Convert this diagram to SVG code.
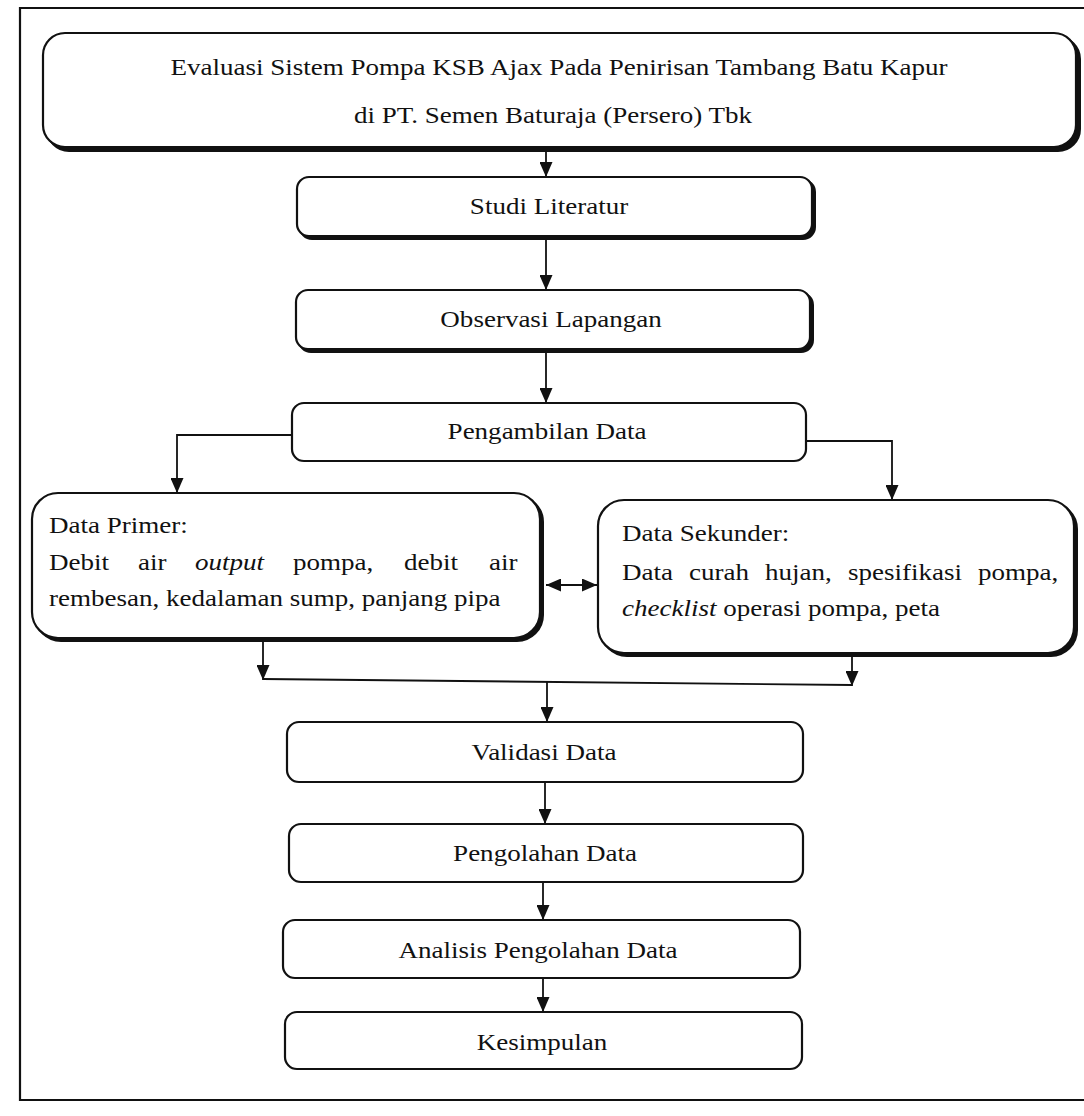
<svg xmlns="http://www.w3.org/2000/svg" width="1084" height="1116" viewBox="0 0 1084 1116">
<defs>
<style>
.bg{fill:#ffffff}
.box{fill:#ffffff;stroke:#111;stroke-width:2.2}
.sh{fill:#111;stroke:#111;stroke-width:2}
.t{font-family:"Liberation Serif","Times New Roman",serif;font-size:23.5px;fill:#111}
.c{text-anchor:middle}
.i{font-style:italic}
.ln{fill:none;stroke:#111;stroke-width:1.8}
.frame{fill:none;stroke:#111;stroke-width:2.2}
</style>
<marker id="ah" viewBox="0 0 15 13" refX="15" refY="6.5" markerWidth="15" markerHeight="13" markerUnits="userSpaceOnUse" orient="auto-start-reverse">
<path d="M0,0 L15,6.5 L0,13 z" fill="#111"/>
</marker>
</defs>
<rect class="bg" x="0" y="0" width="1084" height="1116"/>
<path class="frame" d="M1084,8 H20 V1100 H1084"/>

<g id="connectors">
<path class="ln" d="M546,149 V177" marker-end="url(#ah)"/>
<path class="ln" d="M546,239 V290" marker-end="url(#ah)"/>
<path class="ln" d="M546,353 V403" marker-end="url(#ah)"/>
<path class="ln" d="M292,435 H177 V493" marker-end="url(#ah)"/>
<path class="ln" d="M806,441 H892 V500" marker-end="url(#ah)"/>
<path class="ln" d="M546,585 H597" marker-start="url(#ah)" marker-end="url(#ah)"/>
<path class="ln" d="M263,642 V680" marker-end="url(#ah)"/>
<path class="ln" d="M852,657 V686" marker-end="url(#ah)"/>
<path class="ln" d="M263,679 L852,685"/>
<path class="ln" d="M547,682 V722" marker-end="url(#ah)"/>
<path class="ln" d="M545,782 V824" marker-end="url(#ah)"/>
<path class="ln" d="M543,882 V920" marker-end="url(#ah)"/>
<path class="ln" d="M543,978 V1012" marker-end="url(#ah)"/>
</g>

<g id="title">
<rect class="sh" x="47" y="37" width="1033" height="114" rx="22"/>
<rect class="box" x="43" y="33" width="1033" height="114" rx="22"/>
<text class="t c" transform="translate(559,75) scale(1.15,1)">Evaluasi Sistem Pompa KSB Ajax Pada Penirisan Tambang Batu Kapur</text>
<text class="t c" transform="translate(553,123) scale(1.15,1)">di PT. Semen Baturaja (Persero) Tbk</text>
</g>

<g id="studi">
<rect class="sh" x="300" y="180" width="515" height="59" rx="12"/>
<rect class="box" x="297" y="177" width="515" height="59" rx="12"/>
<text class="t c" transform="translate(549,214) scale(1.15,1)">Studi Literatur</text>
</g>

<g id="observasi">
<rect class="sh" x="299" y="293" width="514" height="59" rx="12"/>
<rect class="box" x="296" y="290" width="514" height="59" rx="12"/>
<text class="t c" transform="translate(551,327) scale(1.15,1)">Observasi Lapangan</text>
</g>

<g id="pengambilan">
<rect class="box" x="292" y="403" width="514" height="58" rx="12"/>
<text class="t c" transform="translate(547,439) scale(1.15,1)">Pengambilan Data</text>
</g>

<g id="primer">
<rect class="sh" x="35" y="496" width="508" height="145" rx="26"/>
<rect class="box" x="32" y="493" width="508" height="145" rx="26"/>
<text class="t" transform="translate(0,533) scale(1.15,1)" x="42.61">Data Primer:</text>
<text class="t" transform="translate(0,570) scale(1.15,1)"><tspan x="42.61">Debit</tspan><tspan x="120">air</tspan><tspan x="169.57" class="i">output</tspan><tspan x="254.78">pompa,</tspan><tspan x="351.3">debit</tspan><tspan x="425.2">air</tspan></text>
<text class="t" transform="translate(0,606) scale(1.15,1)" x="42.61">rembesan, kedalaman sump, panjang pipa</text>
</g>

<g id="sekunder">
<rect class="sh" x="601" y="503" width="476" height="153" rx="26"/>
<rect class="box" x="598" y="500" width="476" height="153" rx="26"/>
<text class="t" transform="translate(0,541) scale(1.15,1)" x="540.87">Data Sekunder:</text>
<text class="t" transform="translate(0,580) scale(1.15,1)"><tspan x="540.87">Data</tspan><tspan x="599.13">curah</tspan><tspan x="665.22">hujan,</tspan><tspan x="737.39">spesifikasi</tspan><tspan x="850.43">pompa,</tspan></text>
<text class="t" transform="translate(0,616) scale(1.15,1)" x="540.87"><tspan class="i">checklist</tspan> operasi pompa, peta</text>
</g>

<g id="validasi">
<rect class="box" x="287" y="722" width="516" height="60" rx="12"/>
<text class="t c" transform="translate(544,760) scale(1.15,1)">Validasi Data</text>
</g>

<g id="pengolahan">
<rect class="box" x="289" y="824" width="514" height="58" rx="12"/>
<text class="t c" transform="translate(545,861) scale(1.15,1)">Pengolahan Data</text>
</g>

<g id="analisis">
<rect class="box" x="283" y="920" width="517" height="58" rx="12"/>
<text class="t c" transform="translate(538,958) scale(1.15,1)">Analisis Pengolahan Data</text>
</g>

<g id="kesimpulan">
<rect class="box" x="285" y="1012" width="517" height="57" rx="12"/>
<text class="t c" transform="translate(542,1050) scale(1.15,1)">Kesimpulan</text>
</g>
</svg>
